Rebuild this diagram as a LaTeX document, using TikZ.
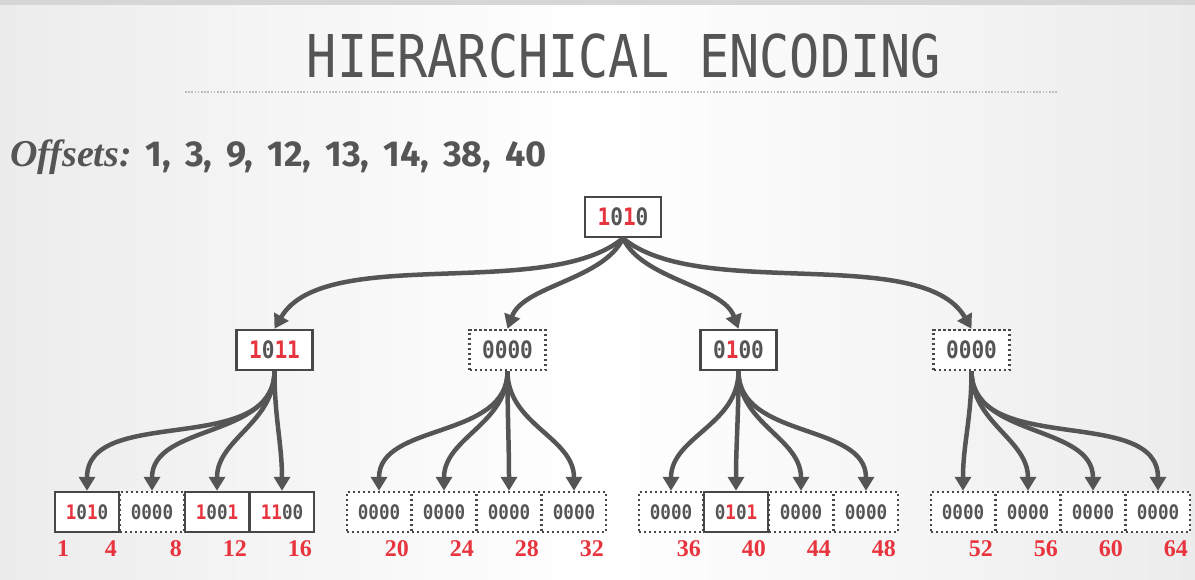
\documentclass[tikz,border=0pt]{standalone}
\usepackage{fontspec}
\setmainfont{Liberation Serif}
\newfontfamily\bitfont[FakeStretch=0.88]{DejaVu Sans Mono}
\newfontfamily\headfont[FakeStretch=0.85]{DejaVu Sans Mono}
\newfontfamily\listfont{Fira Sans}
\usetikzlibrary{arrows.meta}
\definecolor{inkgray}{HTML}{555555}
\definecolor{boxgray}{HTML}{474747}
\definecolor{hotred}{HTML}{E8343E}
\definecolor{rulegray}{HTML}{BDBDBD}
\definecolor{bgedge}{HTML}{ECECEC}
\definecolor{topband}{HTML}{D6D6D6}
\newcommand{\hot}[1]{\textcolor{hotred}{#1}}

\begin{document}
\begin{tikzpicture}[x=1pt,y=1pt,
  bitbox/.style={draw=boxgray,line width=2.4pt,fill=white,minimum width=76pt,minimum height=40pt,inner sep=0pt,text=inkgray,font=\bitfont\bfseries\fontsize{24}{24}\selectfont},
  nullbox/.style={bitbox,dash pattern=on 2.4pt off 2.6pt},
  leafbox/.style={bitbox,minimum width=64pt,font=\bitfont\bfseries\fontsize{20}{20}\selectfont},
  nullleaf/.style={leafbox,dash pattern=on 2.4pt off 2.6pt},
  offlabel/.style={text=hotred,font=\bfseries\fontsize{24}{24}\selectfont,inner sep=0pt},
  link/.style={draw=inkgray,line width=4.5pt,-{Triangle[width=16pt,length=14pt]}}]

% background
\fill[left color=bgedge,right color=bgedge,middle color=white] (0,0) rectangle (1195,580);
\fill[topband] (0,575) rectangle (1195,580);

% heading
\node[text=inkgray,font=\headfont\fontsize{59}{59}\selectfont,anchor=base] (title) at (624,502) {HIERARCHICAL ENCODING};
\draw[rulegray,line width=1.6pt,dash pattern=on 1.6pt off 1.6pt] (185,488) -- (1057,488);
\node[anchor=base west,inner sep=0pt,text=inkgray] (offsets) at (10,413)
  {{\bfseries\itshape\fontsize{38}{38}\selectfont Offsets:}\hspace{14pt}{\listfont\bfseries\fontsize{36}{36}\selectfont\spaceskip=14pt 1, 3, 9, 12, 13, 14, 38, 40}};

% upper levels
\node[bitbox] (root) at (623,363) {\hot{1}0\hot{1}0};
\node[bitbox] (mid1) at (274.5,230) {\hot{1}0\hot{1}\hot{1}};
\node[nullbox] (mid2) at (507.5,230) {0000};
\node[bitbox] (mid3) at (738.5,230) {0\hot{1}00};
\node[nullbox] (mid4) at (971.5,230) {0000};

% leaves with their offsets
\foreach \i/\bits/\kind in {1/{\hot{1}0\hot{1}0}/leafbox,2/0000/nullleaf,3/{\hot{1}00\hot{1}}/leafbox,4/{\hot{1}\hot{1}00}/leafbox,
  5/0000/nullleaf,6/0000/nullleaf,7/0000/nullleaf,8/0000/nullleaf,
  9/0000/nullleaf,10/{0\hot{1}0\hot{1}}/leafbox,11/0000/nullleaf,12/0000/nullleaf,
  13/0000/nullleaf,14/0000/nullleaf,15/0000/nullleaf,16/0000/nullleaf}{
  \pgfmathsetmacro{\x}{87+292*int((\i-1)/4)+65*mod(\i-1,4)}
  \pgfmathtruncatemacro{\n}{4*\i}
  \node[\kind] (leaf\i) at (\x,68) {\bits};
  \node[offlabel,anchor=base east] (num\i) at (\x+30,23) {\n};
}
\node[offlabel,anchor=base west] (num0) at (57,23) {1};

% connectors
\draw[link] (root.south) to[out=220,in=60,looseness=0.7] (mid1.north);
\draw[link] (root.south) to[out=245,in=70,looseness=0.8] (mid2.north);
\draw[link] (root.south) to[out=295,in=110,looseness=0.8] (mid3.north);
\draw[link] (root.south) to[out=320,in=120,looseness=0.7] (mid4.north);
\foreach \m in {1,...,4}
  \foreach \k in {1,...,4}{
    \pgfmathtruncatemacro{\i}{4*(\m-1)+\k}
    \draw[link] (mid\m.south) to[out=270,in=90] (leaf\i.north);
  }
\end{tikzpicture}
\end{document}
